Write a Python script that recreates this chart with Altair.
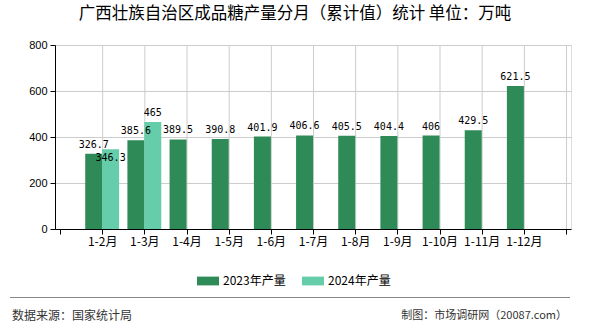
import altair as alt
import pandas as pd

categories = ["1-2月", "1-3月", "1-4月", "1-5月", "1-6月", "1-7月", "1-8月", "1-9月", "1-10月", "1-11月", "1-12月"]
values_2023 = [326.7, 385.6, 389.5, 390.8, 401.9, 406.6, 405.5, 404.4, 406, 429.5, 621.5]
values_2024 = [346.3, 465]
series_names = ["2023年产量", "2024年产量"]
colors = ["#2E8B57", "#66CDAA"]
y_ticks = [0, 200, 400, 600, 800]

rows = []
for i, v in enumerate(values_2023):
    rows.append({"idx": i + 1, "series": series_names[0], "value": v, "label": f"{v:g}"})
for i, v in enumerate(values_2024):
    rows.append({"idx": i + 1, "series": series_names[1], "value": v, "label": f"{v:g}"})
df = pd.DataFrame(rows)

n_slots = len(categories) + 1
grid_df = pd.DataFrame({"g": list(range(1, n_slots + 1))})

label_array = "[" + ",".join(f"'{c}'" for c in categories) + "]"
label_expr = f"datum.value >= 1 && datum.value <= {len(categories)} ? {label_array}[datum.value - 1] : ''"

base = alt.Chart(df).transform_calculate(
    pos=f"datum.idx + (datum.series == '{series_names[0]}' ? -0.2 : 0.2)"
)

grid_color = "#cccccc"

x_scale = alt.Scale(domain=[0, n_slots], nice=False, zero=False)
y_scale = alt.Scale(domain=[0, 800], nice=False)

x_enc = alt.X(
    "pos:Q",
    scale=x_scale,
    axis=alt.Axis(
        values=list(range(0, n_slots + 1)),
        labelExpr=label_expr,
        title=None,
        grid=False,
        domainColor="#000000",
        tickColor="#000000",
        tickSize=5,
        labelFont="Noto Sans CJK SC",
        labelFontSize=12,
        labelColor="#000000",
        labelPadding=2,
        labelFlush=False,
        labelOverlap=False,
    ),
)
y_enc = alt.Y(
    "value:Q",
    scale=y_scale,
    axis=alt.Axis(
        values=y_ticks,
        title=None,
        grid=True,
        gridColor=grid_color,
        gridOpacity=1,
        domainColor="#000000",
        tickColor="#000000",
        tickSize=5,
        labelFont="Liberation Sans",
        labelFontSize=11,
        labelColor="#000000",
        labelPadding=3,
    ),
)

vgrid = alt.Chart(grid_df).mark_rule(color=grid_color, strokeWidth=1, opacity=1, xOffset=0.5).encode(
    x=alt.X("g:Q", scale=x_scale),
)

bars = base.mark_bar(size=17).encode(
    x=x_enc,
    y=y_enc,
    color=alt.Color(
        "series:N",
        scale=alt.Scale(domain=series_names, range=colors),
        legend=alt.Legend(
            title=None,
            orient="none",
            direction="horizontal",
            legendX=142,
            legendY=225,
            symbolType="M-1,-0.4L1,-0.4L1,0.4L-1,0.4Z",
            symbolSize=484,
            symbolStrokeWidth=0,
            symbolOpacity=1,
            labelFont="Noto Sans CJK SC",
            labelFontSize=12,
            labelColor="#000000",
            labelOffset=4,
            columnPadding=16,
        ),
    ),
)

label_style = dict(font="DejaVu Sans Mono", fontSize=10, color="#000000", baseline="alphabetic")

labels = base.transform_filter(
    f"!(datum.series == '{series_names[1]}' && datum.idx == 1)"
).mark_text(dy=-6, **label_style).encode(
    x="pos:Q", y="value:Q", text="label:N"
)
labels_low = base.transform_filter(
    f"datum.series == '{series_names[1]}' && datum.idx == 1"
).mark_text(dy=12, **label_style).encode(
    x="pos:Q", y="value:Q", text="label:N"
)

foot_df = pd.DataFrame({"left": ["数据来源：国家统计局"], "right": ["制图：市场调研网（20087.com）"]})
footer_line = alt.Chart(foot_df).mark_rule(color="#888888", strokeWidth=1).encode(
    x=alt.value(-45), x2=alt.value(515), y=alt.value(252.5)
)
footer_left = alt.Chart(foot_df).mark_text(
    align="left", baseline="middle", font="Noto Sans CJK SC", fontSize=12, color="#333333"
).encode(x=alt.value(-43), y=alt.value(271), text="left:N")
footer_right = alt.Chart(foot_df).mark_text(
    align="right", baseline="middle", font="Noto Sans CJK SC", fontSize=11, color="#333333"
).encode(x=alt.value(512), y=alt.value(271), text="right:N")

chart = alt.layer(vgrid, bars, labels, labels_low, footer_line, footer_left, footer_right).properties(
    width=516,
    height=184,
    title=alt.TitleParams(
        "广西壮族自治区成品糖产量分月（累计值）统计 单位：万吨",
        font="Noto Sans CJK SC",
        fontSize=16.5,
        fontWeight="normal",
        color="#000000",
        anchor="middle",
        dx=-18,
        offset=17,
    ),
    autosize=alt.AutoSizeParams(type="none"),
    padding={"left": 55, "top": 45, "right": 19, "bottom": 101},
).configure_view(stroke=grid_color).configure(background="#ffffff")

chart.save("out.html", embed_options={"renderer": "svg", "actions": False})
